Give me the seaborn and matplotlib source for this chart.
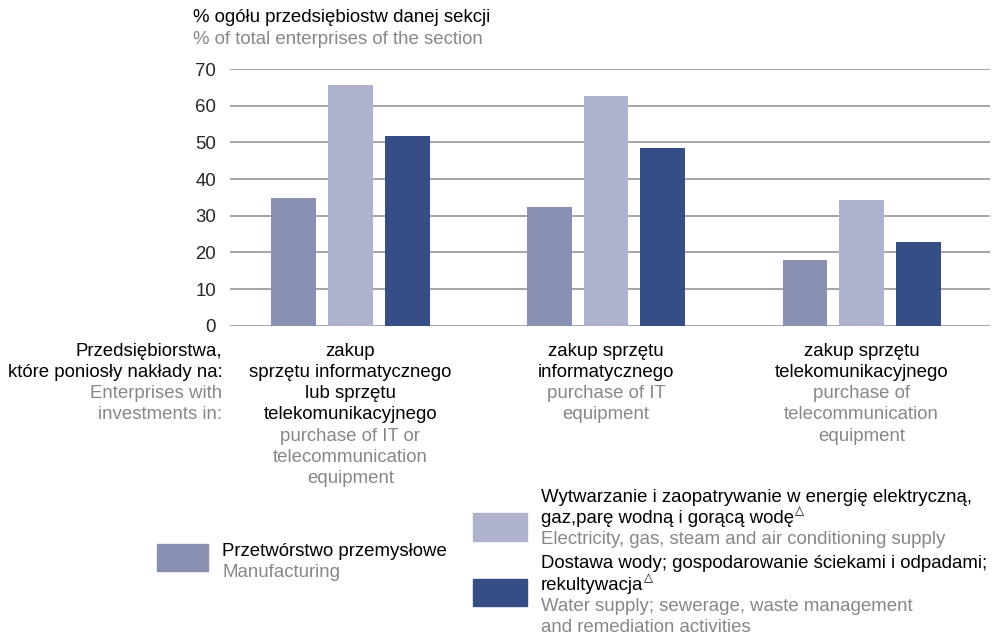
import numpy as np
import pandas as pd
import matplotlib
matplotlib.use("Agg")
import matplotlib.pyplot as plt
from matplotlib.patches import Rectangle
import seaborn as sns

# data
CATEGORIES = ["it_or_tel", "it", "tel"]
SERIES = ["Manufacturing", "Electricity", "Water"]
MANUFACTURING = [34.8, 32.4, 17.9]
ELECTRICITY = [65.7, 62.7, 34.3]
WATER = [51.7, 48.5, 22.8]
COLORS = ["#8990b2", "#aeb2cd", "#364d85"]
YTICKS = [0, 10, 20, 30, 40, 50, 60, 70]

CAT_PL = [["zakup", "sprzętu informatycznego", "lub sprzętu", "telekomunikacyjnego"],
          ["zakup sprzętu", "informatycznego"],
          ["zakup sprzętu", "telekomunikacyjnego"]]
CAT_EN = [["purchase of IT or", "telecommunication", "equipment"],
          ["purchase of IT", "equipment"],
          ["purchase of", "telecommunication", "equipment"]]
ROW_PL = ["Przedsiębiorstwa,", "które poniosły nakłady na:"]
ROW_EN = ["Enterprises with", "investments in:"]
YLAB_PL = "% ogółu przedsiębiostw danej sekcji"
YLAB_EN = "% of total enterprises of the section"

# legend text, a trailing "^" marks a small triangle superscript
LEG_PL = [["Przetwórstwo przemysłowe"],
          ["Wytwarzanie i zaopatrywanie w energię elektryczną,",
           "gaz,parę wodną i gorącą wodę^"],
          ["Dostawa wody; gospodarowanie ściekami i odpadami;",
           "rekultywacja^"]]
LEG_EN = [["Manufacturing"],
          ["Electricity, gas, steam and air conditioning supply"],
          ["Water supply; sewerage, waste management",
           "and remediation activities"]]

GREY = "#878787"
FS = 13.4
W, H = 995, 636

df = pd.DataFrame({
    "cat": CATEGORIES * 3,
    "series": np.repeat(SERIES, 3),
    "val": MANUFACTURING + ELECTRICITY + WATER,
})

sns.set_style("white")
plt.rcParams["font.family"] = ["Liberation Sans", "DejaVu Sans"]

fig = plt.figure(figsize=(W / 100, H / 100), dpi=100)
ax = fig.add_axes([230 / W, 1 - 325.7 / H, (990 - 230) / W, (325.7 - 69) / H])

sns.barplot(data=df, x="cat", y="val", hue="series", order=CATEGORIES,
            hue_order=SERIES, palette=COLORS, width=0.666, gap=0.21,
            saturation=1, linewidth=0, legend=False, ax=ax, zorder=3)

ax.set_xlim(-0.471, 2.502)
ax.set_ylim(0, 70)
ax.set_yticks(YTICKS)
ax.set_yticklabels([str(t) for t in YTICKS], fontsize=FS)
ax.tick_params(axis="y", length=0, pad=10)
ax.set_xticks([])
ax.set_xlabel("")
ax.set_ylabel("")
for s in ax.spines.values():
    s.set_visible(False)
ax.yaxis.grid(True, color="#969696", linewidth=1.2, zorder=0)
ax.set_axisbelow(True)


def fy(py):
    return 1 - py / H


# category labels centred under each group of bars
LINE = 21.3
for i, (pl, en) in enumerate(zip(CAT_PL, CAT_EN)):
    lx = ax.transData.transform((i, 0))[0]
    y = 351
    for line in pl:
        fig.text(lx / W, fy(y), line, ha="center", va="center", fontsize=FS, color="black")
        y += LINE
    for line in en:
        fig.text(lx / W, fy(y), line, ha="center", va="center", fontsize=FS, color=GREY)
        y += LINE

y = 351
for line in ROW_PL:
    fig.text(222.5 / W, fy(y), line, ha="right", va="center", fontsize=FS, color="black")
    y += LINE
for line in ROW_EN:
    fig.text(222.5 / W, fy(y), line, ha="right", va="center", fontsize=FS, color=GREY)
    y += LINE

# axis title
fig.text(193 / W, fy(18), YLAB_PL, ha="left", va="center", fontsize=FS, color="black")
fig.text(193 / W, fy(40), YLAB_EN, ha="left", va="center", fontsize=FS, color=GREY)

# legend
renderer = fig.canvas.get_renderer()
leg_boxes = [(157, 544, 51, 27), (473, 513, 54, 28), (473, 579, 54, 27)]
leg_text = [(222, 551), (541, 497), (541, 564)]
for (bx, by, bw, bh), (tx, ty), pl, en, c in zip(leg_boxes, leg_text, LEG_PL, LEG_EN, COLORS):
    fig.patches.append(Rectangle((bx / W, fy(by + bh)), bw / W, bh / H,
                                 transform=fig.transFigure, color=c))
    y = ty
    for line in pl:
        sup = line.endswith("^")
        t = fig.text(tx / W, fy(y), line.rstrip("^"), ha="left", va="center",
                     fontsize=FS, color="black")
        if sup:
            bb = t.get_window_extent(renderer)
            fig.text((bb.x1 + 1) / W, fy(y - 7), "△", ha="left", va="center",
                     fontsize=8.5, color="black", family="DejaVu Sans")
        y += 21.2
    for line in en:
        fig.text(tx / W, fy(y), line, ha="left", va="center", fontsize=FS, color=GREY)
        y += 20.6

fig.savefig("out.png", dpi=100)
